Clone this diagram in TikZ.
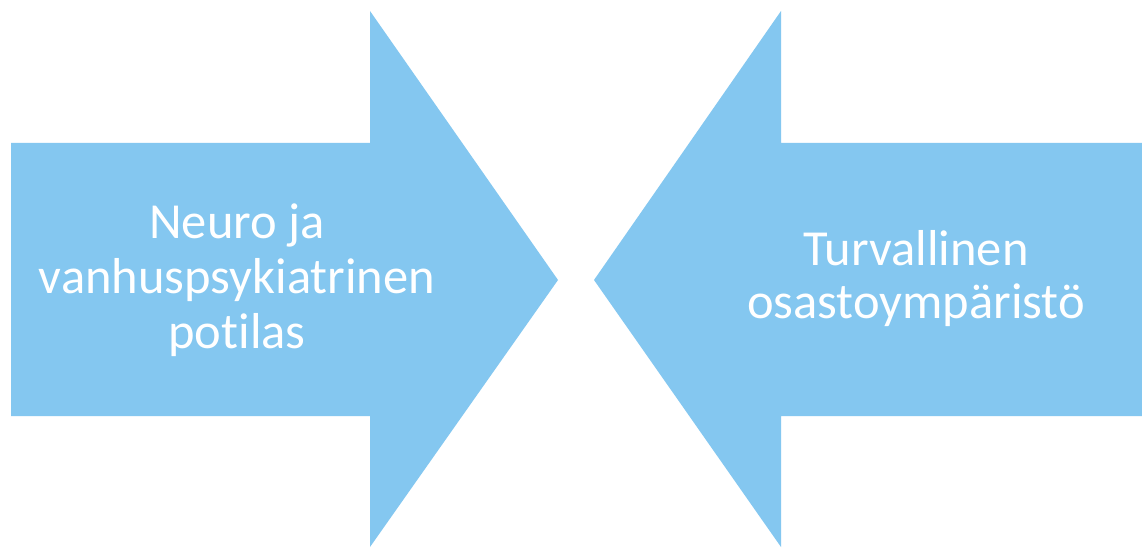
\documentclass[tikz,border=0pt]{standalone}
\usepackage{fontspec}
\setmainfont{Carlito}[RawFeature=-liga]
\definecolor{arrowblue}{RGB}{132,199,240}
\begin{document}
\begin{tikzpicture}[x=1pt,y=-1pt,
  arrowshape/.style={fill=arrowblue,draw=none},
  label/.style={text=white,align=center,inner sep=0pt,anchor=base,
    font=\fontsize{50.5}{55}\selectfont}]
\useasboundingbox (0,0) rectangle (1142,548);
\fill[white] (0,0) rectangle (1142,548);
% left arrow
\path[arrowshape] (11,143) -- (370,143) -- (370,11) -- (558,280) -- (370,547) -- (370,416) -- (11,416) -- cycle;
% right arrow
\path[arrowshape] (1142,143) -- (781,143) -- (781,11) -- (594,280) -- (781,547) -- (781,416) -- (1142,416) -- cycle;
\node[label] (lefttext) at (237,348) {Neuro ja\\vanhuspsykiatrinen\\potilas};
\node[label,font=\fontsize{50.5}{53}\selectfont] (righttext) at (916,318) {Turvallinen\\osastoympäristö};
\end{tikzpicture}
\end{document}
